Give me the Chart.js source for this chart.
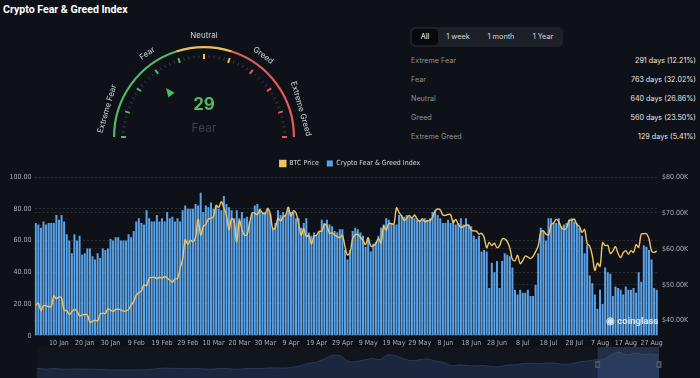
<!DOCTYPE html>
<html>
<head>
<meta charset="utf-8">
<script src="https://cdn.jsdelivr.net/npm/chart.js@4.4.1/dist/chart.umd.min.js"></script>
<style>
  html, body { margin:0; padding:0; width:700px; height:378px; overflow:hidden; background:#0e1117; font-family: Inter, "Noto Sans", sans-serif; }
  #title { position:absolute; left:3px; top:3px; color:#ffffff; font-family: Roboto, Inter, sans-serif; font-weight:700; font-size:10.6px; }
  #gaugeBox { position:absolute; left:0; top:0; width:410px; height:175px; }
  #mainBox { position:absolute; left:0; top:152px; width:700px; height:200px; }
  #sliderBox { position:absolute; left:0; top:345px; width:700px; height:45px; }
  #tabs { position:absolute; left:410px; top:27px; width:153px; height:20px; background:#1d2027; border-radius:5px; }
  #tabs span { position:absolute; top:0; height:20px; line-height:20px; font-size:7.3px; color:#d6d9de; text-align:center; }
  #tabs span.sel { background:#07090c; border-radius:4px; top:2px; height:16px; line-height:16px; color:#fff; }
  #stats { position:absolute; left:410px; top:52px; width:286px; }
  .row { position:relative; height:19px; font-size:7.2px; }
  .row .l { position:absolute; left:1px; top:4px; color:#8b9097; }
  .row .r { position:absolute; right:0; top:4px; color:#e6e8eb; }
  #wm { position:absolute; left:606px; top:315px; color:rgba(255,255,255,0.78); font-weight:700; font-size:9.5px; font-family: Roboto, Inter, sans-serif; }
</style>
</head>
<body>
<div id="title">Crypto Fear &amp; Greed Index</div>
<div id="gaugeBox"><canvas id="gauge"></canvas></div>
<div id="tabs"></div>
<div id="stats"></div>
<div id="sliderBox"><canvas id="slider"></canvas></div>
<div id="mainBox"><canvas id="main"></canvas></div>
<div id="wm">&#9673; coinglass</div>
<script>
// ---------------- DATA ----------------
const startDate = '2024-01-01';
const fearGreed = [
  71,70,68,72,70,71,71,71,76,73,
  76,72,64,60,52,64,60,63,51,52,
  55,55,50,48,52,49,55,54,55,61,
  60,62,62,60,60,60,64,62,66,72,
  74,71,70,79,74,72,72,76,72,74,
  72,78,74,75,72,74,72,79,82,80,
  80,80,83,82,90,78,82,81,84,80,
  82,80,79,88,83,81,
  79,74,79,74,78,74,75,72,77,82,
  83,80,78,78,80,77,68,71,79,76,
  78,76,81,78,78,74,74,68,71,74,
  65,63,65,63,66,73,71,73,70,69,
  66,65,67,67,54,48,54,66,68,67,
  65,63,56,61,53,58,59,63,68,70,
  74,73,71,70,70,76,76,75,76,75,
  74,74,73,73,73,74,73,74,78,79,
  76,74,71,71,73,71,73,70,71,74,
  70,74,70,69,63,61,63,53,54,53,
  30,46,40,47,30,47,52,51,50,43,
  29,26,29,27,27,29,25,25,32,52,
  68,66,60,74,74,71,71,74,69,70,
  71,73,74,72,71,68,63,52,57,38,
  33,26,17,29,20,43,40,39,25,31,
  30,29,26,31,29,29,30,27,40,34,
  57,56,54,48,30,29
];
const btcPriceK = [
  // Jan
  44.2,44.9,42.8,44.2,44.1,43.9,43.9,46.9,46.1,46.6,46.3,42.9,42.8,41.7,42.5,43.1,42.7,41.3,41.6,41.7,41.6,39.5,39.8,40.1,39.9,41.8,42.1,42.0,43.3,42.9,42.6,
  // Feb
  43.1,43.2,43.0,42.6,42.7,43.1,44.3,45.3,47.1,47.8,48.3,50.0,49.7,51.8,52.0,52.1,51.7,52.1,51.8,52.3,51.8,51.3,50.7,51.6,51.7,54.5,57.1,62.5,61.2,
  // Mar
  62.4,62.0,63.1,68.3,63.8,66.1,66.9,68.3,68.5,69.0,72.1,71.5,73.1,71.4,69.4,65.3,68.4,67.6,61.9,67.9,65.5,63.8,64.0,67.2,70.0,69.9,69.5,70.8,70.0,69.7,71.3,
  // Apr
  69.7,65.4,65.9,68.5,67.8,68.9,69.4,71.6,69.1,70.6,70.0,67.1,63.8,65.7,63.4,63.8,61.3,63.5,63.8,64.9,64.9,66.8,66.4,64.3,64.5,63.8,63.4,63.1,63.8,60.6,
  // May
  58.3,59.1,62.9,63.9,64.0,63.2,62.3,61.2,63.1,60.8,60.8,61.5,62.9,61.6,66.3,65.2,67.0,67.0,66.9,71.4,70.1,69.1,67.9,68.5,69.3,68.5,69.4,68.3,67.6,68.4,67.5,
  // Jun
  67.8,67.8,68.8,70.6,71.1,70.8,69.4,69.3,69.6,69.5,67.3,68.2,66.8,66.0,66.2,66.6,66.5,65.2,65.0,64.9,64.1,64.3,63.2,60.3,61.8,60.9,61.6,60.3,60.9,62.7,
  // Jul
  62.8,62.0,60.2,57.0,56.7,58.2,55.9,56.7,58.0,57.7,57.3,57.9,59.2,60.8,64.7,65.0,64.1,63.9,66.7,67.2,68.2,67.6,65.9,65.4,65.8,68.0,67.9,68.3,66.8,66.2,64.6,
  // Aug
  65.4,61.5,60.7,58.1,54.0,56.0,55.1,61.7,60.9,61.0,58.7,59.4,60.6,58.7,57.6,58.9,59.5,58.5,59.5,59.0,61.2,60.4,64.1,64.2,64.2,62.8,59.4,59.0,59.4
];
const indexTicks = [0,20,40,60,80,100];
const priceTicksK = [40,50,60,70,80];

// long-history BTC (monthly, thousands) for the zoom slider, Feb 2018 - Aug 2024
const sliderBtcK = [
  10.3,6.9,9.2,7.5,6.4,7.7,7.0,6.6,6.3,4.0,3.7,
  3.4,3.8,4.1,5.3,8.6,10.8,10.1,9.6,8.3,9.2,7.6,7.2,
  9.4,8.6,6.4,8.6,9.5,9.1,11.3,11.7,10.8,13.8,19.7,29.0,
  33.1,45.1,58.8,57.7,37.3,35.0,41.5,47.1,43.8,61.3,57.0,46.3,
  38.5,43.2,45.5,37.7,31.8,19.9,23.3,20.0,19.4,20.5,17.2,16.5,
  23.1,23.1,28.5,29.3,27.2,30.5,29.2,26.0,27.0,34.5,37.7,42.3,
  42.6,61.2,71.3,60.6,67.5,62.7,64.6,59.0
];
const sliderWindowStart = 71; // Jan 2024

// gauge
const gaugeValue = 29;
const gaugeState = 'Fear';
const gaugeSegments = [40, 20, 40];
const gaugeColors = ['#55b665', '#edc05a', '#e25c5c'];
const gaugeLabels = ['Extreme Fear', 'Fear', 'Neutral', 'Greed', 'Extreme Greed'];
const gaugeLabelAt = [9, 31, 50, 70, 91];

// stats panel
const rangeTabs = ['All', '1 week', '1 month', '1 Year'];
const statNames = ['Extreme Fear', 'Fear', 'Neutral', 'Greed', 'Extreme Greed'];
const statDays = [291, 763, 640, 560, 129];
const statPct = [12.21, 32.02, 26.86, 23.50, 5.41];

// ---------------- HTML panel ----------------
const tabPos = [[2,26],[30,36],[70,42],[115,36]];
const tabs = document.getElementById('tabs');
rangeTabs.forEach((t, i) => {
  const s = document.createElement('span');
  s.textContent = t;
  s.style.left = tabPos[i][0] + 'px';
  s.style.width = tabPos[i][1] + 'px';
  if (i === 0) s.className = 'sel';
  tabs.appendChild(s);
});
const stats = document.getElementById('stats');
statNames.forEach((n, i) => {
  const r = document.createElement('div');
  r.className = 'row';
  r.innerHTML = '<span class="l">' + n + '</span><span class="r">' + statDays[i] + ' days (' + statPct[i].toFixed(2) + '%)</span>';
  stats.appendChild(r);
});

// ---------------- labels ----------------
const monthNames = ['Jan','Feb','Mar','Apr','May','Jun','Jul','Aug','Sep','Oct','Nov','Dec'];
const dateLabels = fearGreed.map((_, i) => {
  const d = new Date(startDate + 'T00:00:00Z');
  d.setUTCDate(d.getUTCDate() + i);
  return d.getUTCDate() + ' ' + monthNames[d.getUTCMonth()];
});

const FONT = 'Inter, "Noto Sans", sans-serif';
const NARROW = '"Liberation Sans Narrow", "DejaVu Sans Condensed", Roboto, sans-serif';
const tickColor = '#a9aeb6';
const gridColor = '#2a2e36';

// ---------------- gauge ----------------
const gaugePlugin = {
  id: 'gaugeDecor',
  afterDatasetsDraw(chart) {
    const arc = chart.getDatasetMeta(0).data[0];
    if (!arc) return;
    const ctx = chart.ctx;
    const cx = arc.x, cy = arc.y, R = arc.outerRadius;
    const total = gaugeSegments.reduce((a, b) => a + b, 0);
    const ang = v => Math.PI - v / total * Math.PI;
    const colorFor = v => {
      let acc = 0;
      for (let i = 0; i < gaugeSegments.length; i++) { acc += gaugeSegments[i]; if (v <= acc) return gaugeColors[i]; }
      return gaugeColors[gaugeColors.length - 1];
    };
    ctx.save();
    for (let v = 0; v <= total; v += 2) {
      const a = ang(v);
      const major = v % 10 === 0;
      const r1 = major ? R - 13 : R - 12, r2 = major ? R - 8 : R - 9;
      ctx.beginPath();
      ctx.moveTo(cx + Math.cos(a) * r1, cy - Math.sin(a) * r1);
      ctx.lineTo(cx + Math.cos(a) * r2, cy - Math.sin(a) * r2);
      ctx.strokeStyle = major ? colorFor(v) : '#3b3f47';
      ctx.lineWidth = major ? 2 : 1;
      ctx.stroke();
    }
    // labels
    ctx.fillStyle = '#d0d3d8';
    ctx.font = '8px ' + FONT;
    ctx.textAlign = 'center';
    ctx.textBaseline = 'middle';
    gaugeLabels.forEach((t, i) => {
      const a = ang(gaugeLabelAt[i]);
      const rr = R + 10;
      ctx.save();
      ctx.translate(cx + Math.cos(a) * rr, cy - Math.sin(a) * rr);
      ctx.rotate(Math.PI / 2 - a);
      ctx.fillText(t, 0, 0);
      ctx.restore();
    });
    // pointer
    const a = ang(gaugeValue);
    const tip = R - 29, base = R - 38, hw = 4;
    const px = -Math.sin(a), py = -Math.cos(a);
    const bx = cx + Math.cos(a) * base, by = cy - Math.sin(a) * base;
    ctx.beginPath();
    ctx.moveTo(cx + Math.cos(a) * tip, cy - Math.sin(a) * tip);
    ctx.lineTo(bx + px * hw, by + py * hw);
    ctx.lineTo(bx - px * hw, by - py * hw);
    ctx.closePath();
    ctx.fillStyle = colorFor(gaugeValue);
    ctx.fill();
    // center text
    ctx.fillStyle = colorFor(gaugeValue);
    ctx.font = 'bold 17px ' + FONT;
    ctx.fillText(String(gaugeValue), cx, cy - 32);
    ctx.fillStyle = '#3c4048';
    ctx.font = '12px ' + FONT;
    ctx.fillText(gaugeState, cx, cy - 9);
    ctx.restore();
  }
};

new Chart(document.getElementById('gauge'), {
  type: 'doughnut',
  data: { labels: ['0-40', '40-60', '60-100'], datasets: [{ data: gaugeSegments, backgroundColor: gaugeColors, borderWidth: 0 }] },
  options: {
    responsive: true, maintainAspectRatio: false, animation: false,
    rotation: -90, circumference: 180, cutout: '97.6%',
    layout: { padding: { left: 113, right: 115, top: 46, bottom: 38 } },
    plugins: { legend: { display: false }, tooltip: { enabled: false } },
    events: []
  },
  plugins: [gaugePlugin]
});

// ---------------- main chart ----------------
new Chart(document.getElementById('main'), {
  data: {
    labels: dateLabels,
    datasets: [
      { type: 'line', label: 'BTC Price', data: btcPriceK, yAxisID: 'yPrice',
        borderColor: '#f0c462', backgroundColor: '#f0c462', borderWidth: 1.4,
        pointRadius: 0, tension: 0.35, order: 0 },
      { type: 'bar', label: 'Crypto Fear & Greed Index', data: fearGreed, yAxisID: 'yIndex',
        backgroundColor: '#5ba2e6', borderWidth: 0, categoryPercentage: 1, barPercentage: 0.78, order: 1 }
    ]
  },
  options: {
    responsive: true, maintainAspectRatio: false, animation: false, events: [],
    layout: { padding: { left: 0, right: 0, top: 0, bottom: 0 } },
    plugins: {
      tooltip: { enabled: false },
      legend: {
        display: true, position: 'top', align: 'center',
        labels: { color: '#d6d9de', boxWidth: 6, boxHeight: 6, padding: 8, font: { size: 7, family: NARROW } }
      }
    },
    scales: {
      x: {
        offset: true,
        grid: { display: false, drawTicks: false, tickLength: 0 }, border: { display: false },
        ticks: { autoSkip: false, maxRotation: 0, minRotation: 0, color: tickColor, padding: 3,
          font: { size: 7, family: NARROW },
          callback: (v, i) => (i % 10 === 9 ? dateLabels[i] : null) },
        afterFit: s => { s.height = 16.3; }
      },
      yIndex: {
        position: 'left', min: 0, max: 100,
        afterBuildTicks: s => { s.ticks = indexTicks.map(v => ({ value: v })); },
        ticks: { color: tickColor, font: { size: 7, family: NARROW }, padding: 3,
          callback: v => (v === 0 ? '0' : v.toFixed(2)) },
        grid: { color: gridColor, drawTicks: false },
        border: { display: false, dash: [2, 2] },
        afterFit: s => { s.width = 34.5; }
      },
      yPrice: {
        position: 'right', min: 35.8, max: 80,
        afterBuildTicks: s => { s.ticks = priceTicksK.map(v => ({ value: v })); },
        ticks: { color: tickColor, font: { size: 7, family: NARROW }, padding: 4,
          callback: v => '$' + v.toFixed(2) + 'K' },
        grid: { color: gridColor, drawTicks: false },
        border: { display: false, dash: [2, 2] },
        afterFit: s => { s.width = 42; }
      }
    }
  }
});

// ---------------- slider ----------------
const sliderPlugin = {
  id: 'sliderWindow',
  beforeDatasetsDraw(chart) {
    const { ctx, chartArea } = chart;
    ctx.save();
    ctx.fillStyle = '#11151d';
    ctx.fillRect(chartArea.left, chartArea.top, chartArea.right - chartArea.left, chartArea.bottom - chartArea.top);
    ctx.restore();
  },
  afterDatasetsDraw(chart) {
    const { ctx, chartArea, scales } = chart;
    const x0 = scales.x.getPixelForValue(sliderWindowStart - 0.7);
    const x1 = chartArea.right;
    ctx.save();
    ctx.fillStyle = 'rgba(80,110,165,0.30)';
    ctx.fillRect(x0, chartArea.top, x1 - x0, chartArea.bottom - chartArea.top);
    [x0, x1].forEach(x => {
      ctx.fillStyle = '#4e5461';
      ctx.fillRect(x - 2.5, chartArea.top + 14, 5, 7);
      ctx.fillStyle = '#272b33';
      ctx.fillRect(x - 1, chartArea.top + 16, 2, 3);
    });
    ctx.restore();
  }
};
new Chart(document.getElementById('slider'), {
  type: 'line',
  data: { labels: sliderBtcK.map((_, i) => i), datasets: [{ data: sliderBtcK, borderColor: '#2a3b5a', borderWidth: 1,
    backgroundColor: 'rgba(34,52,86,0.6)', fill: 'start', pointRadius: 0, tension: 0.3 }] },
  options: {
    responsive: true, maintainAspectRatio: false, animation: false, events: [],
    layout: { padding: { left: 37, right: 41, top: 2, bottom: 0 } },
    plugins: { legend: { display: false }, tooltip: { enabled: false } },
    scales: { x: { display: false }, y: { display: false, min: -72, max: 91 } }
  },
  plugins: [sliderPlugin]
});
</script>
</body>
</html>
